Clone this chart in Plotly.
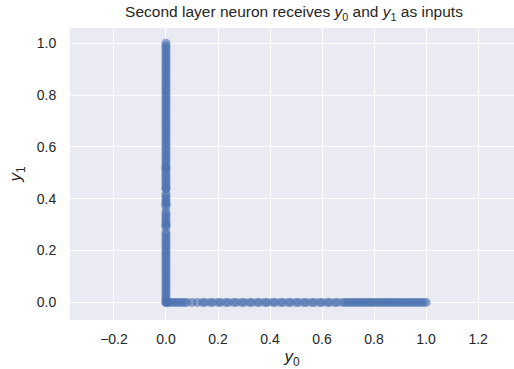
import plotly.graph_objects as go

# vertical arm: points at y0 = 0 (values of y1)
vert_y1 = [0.00, 0.01, 0.02, 0.03, 0.04, 0.05, 0.06, 0.07, 0.08, 0.09, 0.10, 0.11, 0.12, 0.13,
           0.14, 0.15, 0.16, 0.17, 0.18, 0.19, 0.20, 0.21, 0.22, 0.23, 0.24, 0.25, 0.26, 0.27,
           0.29, 0.30, 0.30, 0.31, 0.32, 0.33, 0.34, 0.35, 0.37, 0.38, 0.38, 0.39, 0.40, 0.41,
           0.42, 0.44, 0.44, 0.45, 0.46, 0.47, 0.48, 0.49, 0.50, 0.51, 0.52, 0.52, 0.53, 0.54,
           0.55, 0.56, 0.57, 0.58, 0.59, 0.60, 0.61, 0.62, 0.63, 0.64, 0.65, 0.66, 0.67, 0.68,
           0.69, 0.70, 0.71, 0.72, 0.73, 0.74, 0.75, 0.76, 0.77, 0.78, 0.79, 0.80, 0.81, 0.82,
           0.83, 0.84, 0.85, 0.86, 0.87, 0.88, 0.89, 0.90, 0.91, 0.92, 0.93, 0.94, 0.95, 0.96,
           0.97, 0.98, 0.99, 1.00]
vert_y0 = [0.0] * len(vert_y1)

# horizontal arm: points at y1 = 0 (values of y0)
horiz_y0 = [0.00, 0.005, 0.01, 0.02, 0.03, 0.04, 0.05, 0.06, 0.07, 0.08, 0.10, 0.12, 0.14,
            0.15, 0.17, 0.18, 0.20, 0.21, 0.23, 0.24, 0.26, 0.27, 0.29, 0.30, 0.32, 0.33,
            0.35, 0.36, 0.38, 0.39, 0.41, 0.42, 0.44, 0.45, 0.47, 0.48, 0.50, 0.51, 0.53,
            0.54, 0.56, 0.57, 0.59, 0.60, 0.62, 0.63, 0.65, 0.66, 0.68, 0.69, 0.70, 0.71,
            0.72, 0.73, 0.74, 0.75, 0.76, 0.77, 0.78, 0.79, 0.80, 0.81, 0.82, 0.83, 0.84,
            0.85, 0.86, 0.87, 0.88, 0.89, 0.90, 0.91, 0.92, 0.93, 0.94, 0.95, 0.96, 0.97,
            0.98, 0.99, 1.00]
horiz_y1 = [0.0] * len(horiz_y0)

x_ticks = [-0.2, 0.0, 0.2, 0.4, 0.6, 0.8, 1.0, 1.2]
y_ticks = [0.0, 0.2, 0.4, 0.6, 0.8, 1.0]

FONT = "Liberation Sans, Arial, sans-serif"
TXT = "#262626"

fig = go.Figure()
fig.add_trace(go.Scatter(
    x=vert_y0 + horiz_y0, y=vert_y1 + horiz_y1, mode="markers",
    marker=dict(color="#4C72B0", size=9, opacity=0.62, line=dict(width=0)),
    showlegend=False, hoverinfo="skip"))

fig.update_layout(
    width=514, height=369,
    margin=dict(l=70, r=0, t=28, b=49),
    paper_bgcolor="white", plot_bgcolor="#EAEAF2",
    font=dict(family=FONT, color=TXT, size=14),
    title=dict(text="Second layer neuron receives <i>y</i><sub>0</sub> and <i>y</i><sub>1</sub> as inputs",
               x=0.572, xanchor="center", y=0.982, yanchor="top",
               font=dict(size=15.5, color=TXT, family=FONT)),
    xaxis=dict(range=[-0.369, 1.338], tickvals=x_ticks,
               ticktext=[f"{v:.1f}".replace("-", "\u2212") for v in x_ticks],
               showgrid=True, gridcolor="white", gridwidth=1.2, zeroline=False, showline=False,
               ticks="outside", ticklen=6, tickcolor="rgba(0,0,0,0)",
               tickfont=dict(size=14, color=TXT),
               title=dict(text="<i>y</i><sub>0</sub>", font=dict(size=17, color=TXT), standoff=7)),
    yaxis=dict(range=[-0.068, 1.059], tickvals=y_ticks, ticktext=[f"{v:.1f}" for v in y_ticks],
               showgrid=True, gridcolor="white", gridwidth=1.2, zeroline=False, showline=False,
               ticks="outside", ticklen=10, tickcolor="rgba(0,0,0,0)",
               tickfont=dict(size=14, color=TXT),
               title=dict(text="<i>y</i><sub>1</sub>", font=dict(size=17, color=TXT), standoff=10)),
)

fig.write_html("out.html")
